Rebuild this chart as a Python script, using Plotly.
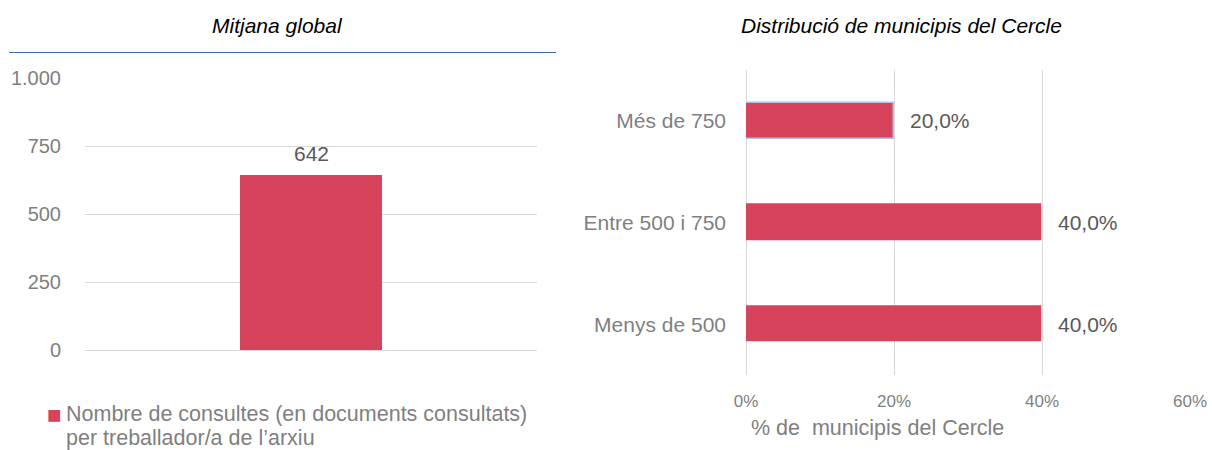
import plotly.graph_objects as go

# Left panel: overall average
avg_categories = ["Nombre de consultes"]
avg_values = [642]
avg_legend_lines = [
    "Nombre de consultes (en documents consultats)",
    "per treballador/a de l\u2019arxiu",
]
avg_ticks = [0, 250, 500, 750, 1000]

# Right panel: distribution of municipalities
dist_categories = ["Menys de 500", "Entre 500 i 750", "Més de 750"]
dist_values = [0.40, 0.40, 0.20]
dist_ticks = [0, 0.2, 0.4, 0.6]

RED = "#D6435B"
GRID = "#D9D9D9"
TICK = "#7F7F7F"
LABEL = "#595959"
FONT = "Liberation Sans, Arial, sans-serif"

W, H = 1212, 450


def px_x(p):
    return p / W


def px_y(p):
    return (H - p) / H


fig = go.Figure()

fig.add_trace(go.Bar(
    x=avg_categories, y=avg_values, name=" ".join(avg_legend_lines),
    marker=dict(color=RED, line=dict(width=0)),
    width=0.314, xaxis="x", yaxis="y", showlegend=False,
    hoverinfo="skip",
))

outline = ["rgba(0,0,0,0)", "rgba(0,0,0,0)", "#A9C4E8"]
fig.add_trace(go.Bar(
    y=dist_categories, x=dist_values, orientation="h",
    marker=dict(color=RED, line=dict(color=outline, width=1.5)),
    width=0.355, xaxis="x2", yaxis="y2", showlegend=False,
    hoverinfo="skip",
))

annotations = []
# value label on the average bar
for c, v in zip(avg_categories, avg_values):
    annotations.append(dict(
        x=c, y=v, xref="x", yref="y", text=f"{v}", showarrow=False,
        xanchor="center", yanchor="middle", yshift=22,
        font=dict(size=21, color=LABEL),
    ))
# percentage labels at the end of the horizontal bars
for c, v in zip(dist_categories, dist_values):
    annotations.append(dict(
        x=v, y=c, xref="x2", yref="y2",
        text=f"{v * 100:.1f}%".replace(".", ","), showarrow=False,
        xanchor="left", xshift=14, font=dict(size=21, color=LABEL),
    ))
# panel titles
annotations.append(dict(
    x=px_x(277), y=px_y(25), xref="paper", yref="paper",
    text="<i>Mitjana global</i>", showarrow=False,
    xanchor="center", yanchor="middle",
    font=dict(size=21, color="#000000"),
))
annotations.append(dict(
    x=px_x(901), y=px_y(25), xref="paper", yref="paper",
    text="<i>Distribució de municipis del Cercle</i>", showarrow=False,
    xanchor="center", yanchor="middle",
    font=dict(size=21, color="#000000"),
))
# x-axis caption for the distribution panel
annotations.append(dict(
    x=px_x(877), y=px_y(428), xref="paper", yref="paper",
    text="% de  municipis del Cercle", showarrow=False,
    xanchor="center", yanchor="middle",
    font=dict(size=21.5, color=TICK),
))
# legend key for the average panel
annotations.append(dict(
    x=px_x(64), y=px_y(414), xref="paper", yref="paper",
    text=f"<span style='color:{RED}'>\u25A0</span>", showarrow=False,
    xanchor="right", yanchor="middle", font=dict(size=24, color=RED),
))
for i, line in enumerate(avg_legend_lines):
    annotations.append(dict(
        x=px_x(64), y=px_y(414 + 24 * i), xref="paper", yref="paper",
        text=line, showarrow=False, xanchor="left", yanchor="middle",
        font=dict(size=21.5, color=TICK),
    ))

fig.update_layout(
    width=W, height=H,
    margin=dict(l=0, r=0, t=0, b=0, autoexpand=False),
    paper_bgcolor="white", plot_bgcolor="white",
    separators=",.",
    font=dict(family=FONT, size=20, color=TICK),
    bargap=0, showlegend=False,
    xaxis=dict(
        domain=[px_x(85), px_x(537)], showticklabels=False,
        showgrid=False, zeroline=False, showline=False, fixedrange=True,
        automargin=False,
    ),
    yaxis=dict(
        domain=[px_y(350), px_y(78)], range=[0, 1000],
        tickvals=avg_ticks, tickformat=",d",
        showgrid=True, gridcolor=GRID, gridwidth=1.3,
        zeroline=True, zerolinecolor=GRID, zerolinewidth=1.3,
        showline=False, ticks="", ticklabelstandoff=23,
        tickfont=dict(size=20, color=TICK), automargin=False,
    ),
    xaxis2=dict(
        domain=[px_x(746), px_x(1190)], range=[0, 0.6],
        tickvals=dist_ticks, tickformat=".0%",
        showgrid=True, gridcolor=GRID, gridwidth=1.3,
        zeroline=True, zerolinecolor=GRID, zerolinewidth=1.3,
        showline=False, ticks="", ticklabelstandoff=14,
        tickfont=dict(size=17, color=TICK), anchor="y2", automargin=False,
    ),
    yaxis2=dict(
        domain=[px_y(375), px_y(70)], range=[-0.5, 2.5],
        categoryorder="array", categoryarray=dist_categories,
        showgrid=False, zeroline=False, showline=False, ticks="",
        ticklabelstandoff=19, tickfont=dict(size=21, color=TICK),
        anchor="x2", automargin=False,
    ),
    annotations=annotations,
    shapes=[dict(
        type="line", xref="paper", yref="paper",
        x0=px_x(9), x1=px_x(556), y0=px_y(52.5), y1=px_y(52.5),
        line=dict(color="#3F6FA8", width=1),
    )],
)

fig.write_html("out.html")
